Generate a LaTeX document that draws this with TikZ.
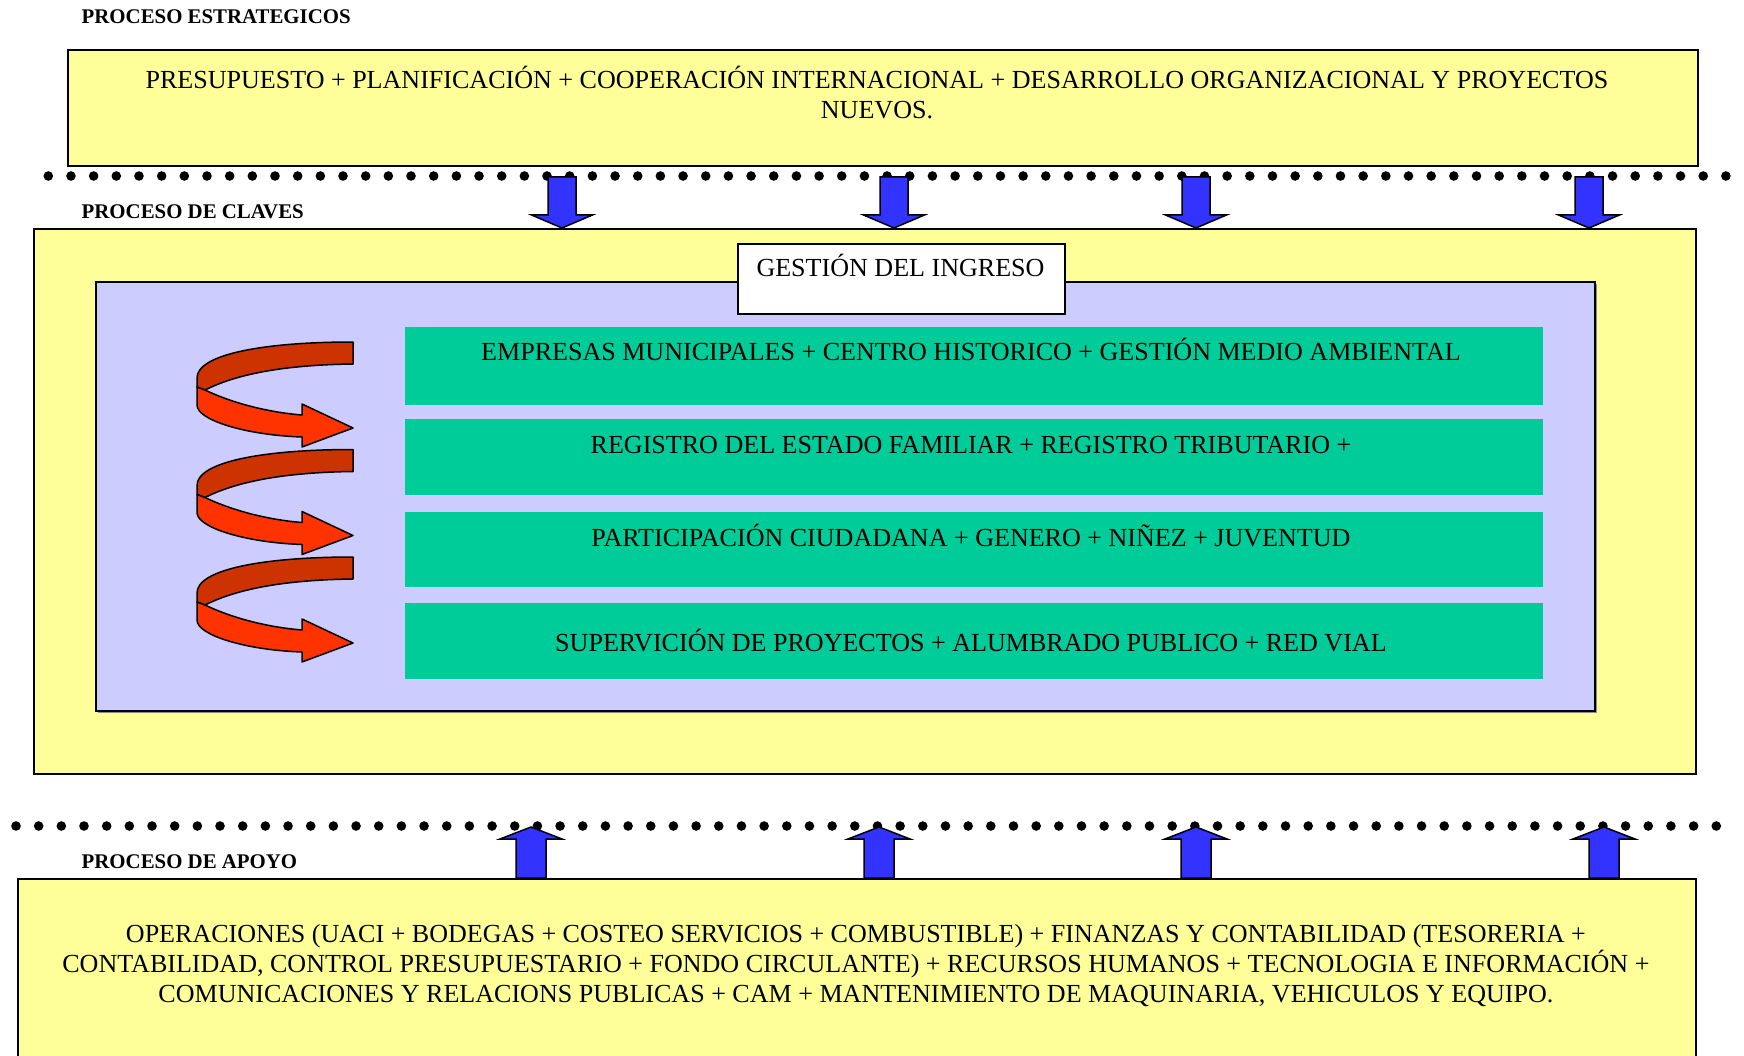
\documentclass[tikz,border=0pt]{standalone}
\usepackage{fontspec}
\setmainfont{Liberation Serif}
\definecolor{paleyellow}{HTML}{FFFF99}
\definecolor{lilac}{HTML}{CCCCFF}
\definecolor{seagreen}{HTML}{00CC99}
\definecolor{arrowblue}{HTML}{3333FF}
\definecolor{ribbondark}{HTML}{CC3300}
\definecolor{ribbonlight}{HTML}{FF3300}

\tikzset{
  bodytext/.style={font=\fontsize{26.05}{29.7}\selectfont, inner sep=0pt, align=center},
  headlabel/.style={font=\fontsize{20.85}{24}\selectfont\bfseries, inner sep=0pt, anchor=base west},
  panel/.style={draw=black, line width=2pt, inner sep=0pt, anchor=north west},
  greenbar/.style={fill=seagreen, inner sep=0pt, anchor=north west, minimum width=1138pt},
  blockarrow/.style={draw=black, fill=arrowblue, line width=1.5pt, line join=miter},
  ribbon/.style={draw=black, line width=1.5pt, line join=round},
  dot/.style={fill=black},
  pics/downblock/.style={code={
    \draw[blockarrow] (-14,0) -- (14,0) -- (14,38) -- (30.5,38) -- (0,51)
      -- (-30.5,38) -- (-14,38) -- cycle;}},
  pics/upblock/.style={code={
    \draw[blockarrow] (0,0) -- (31,12) -- (15,12) -- (15,51) -- (-15,51)
      -- (-15,12) -- (-31,12) -- cycle;}},
  pics/spiralarrow/.style={code={
    % back half of the ribbon
    \draw[ribbon, fill=ribbondark] (0,0) .. controls (-88,0) and (-156,12) .. (-156,36)
      -- (-156,45) -- (-148,48) .. controls (-118,33) and (-73,23) .. (0,22) -- cycle;
    % front half with the arrow head
    \draw[ribbon, fill=ribbonlight] (-156,45) -- (-148,48)
      .. controls (-123,60) and (-88,70) .. (-51,73) -- (-51,62) -- (0,86)
      -- (-51,105) -- (-51,95) .. controls (-108,93) and (-156,78) .. (-156,63) -- cycle;}}
}

\begin{document}
\begin{tikzpicture}[x=1pt,y=-1pt]
\useasboundingbox (0,0) rectangle (1744,1056);
\begin{scope}
\clip (0,0) rectangle (1744,1056);
\fill[white] (0,0) rectangle (1744,1056);

% section titles
\node[headlabel] (lblstrat) at (81.5,23.5) {PROCESO ESTRATEGICOS};
\node[headlabel] (lblclaves) at (81.5,218.5) {PROCESO DE CLAVES};
\node[headlabel] (lblapoyo) at (81.5,868) {PROCESO DE APOYO};

% strategic processes
\node[panel, fill=paleyellow, minimum width=1630pt, minimum height=116pt] (strat) at (67,49) {};
\node[bodytext, anchor=base] (strattext) at (877,118.5)
  {PRESUPUESTO + PLANIFICACIÓN + COOPERACIÓN INTERNACIONAL + DESARROLLO ORGANIZACIONAL Y PROYECTOS\\NUEVOS.};

% dotted separators
\foreach \i in {0,...,74} \fill[dot] (48.3+\i*22.67,176) circle[radius=4.8pt];
\foreach \i in {0,...,75} \fill[dot] (16+\i*22.67,826) circle[radius=4.8pt];

% key processes
\node[panel, fill=paleyellow, minimum width=1662pt, minimum height=545pt] (claves) at (33,228) {};
\fill[black!45] (98,284) rectangle (1597,713);
\node[panel, fill=lilac, minimum width=1499pt, minimum height=429pt] (ingreso) at (95,281) {};
\node[panel, fill=white, minimum width=327pt, minimum height=70pt] (gestion) at (737,243) {};
\node[bodytext, anchor=base] (gestiontext) at (900.5,277) {GESTIÓN DEL INGRESO};

\node[greenbar, minimum height=78pt] (g1) at (405,327) {};
\node[greenbar, minimum height=76pt] (g2) at (405,419) {};
\node[greenbar, minimum height=75pt] (g3) at (405,512) {};
\node[greenbar, minimum height=76pt] (g4) at (405,603) {};
\node[bodytext, anchor=base] (g1text) at (971,360) {EMPRESAS MUNICIPALES + CENTRO HISTORICO + GESTIÓN MEDIO AMBIENTAL};
\node[bodytext, anchor=base] (g2text) at (971,453) {REGISTRO DEL ESTADO FAMILIAR + REGISTRO TRIBUTARIO +};
\node[bodytext, anchor=base] (g3text) at (971,546.5) {PARTICIPACIÓN CIUDADANA + GENERO + NIÑEZ + JUVENTUD};
\node[bodytext, anchor=base] (g4text) at (971,651.5) {SUPERVICIÓN DE PROYECTOS + ALUMBRADO PUBLICO + RED VIAL};

% cycle ribbons
\foreach \k in {0,1,2} \pic at (353,342+\k*107.5) {spiralarrow};

% support processes
\node[panel, fill=paleyellow, minimum width=1678pt, minimum height=220pt] (apoyo) at (17,878) {};
\node[bodytext, anchor=base] (apoyotext) at (856,1002)
  {OPERACIONES (UACI + BODEGAS + COSTEO SERVICIOS + COMBUSTIBLE) + FINANZAS Y CONTABILIDAD (TESORERIA +\\
   CONTABILIDAD, CONTROL PRESUPUESTARIO + FONDO CIRCULANTE) + RECURSOS HUMANOS + TECNOLOGIA E INFORMACIÓN +\\
   COMUNICACIONES Y RELACIONS PUBLICAS + CAM + MANTENIMIENTO DE MAQUINARIA, VEHICULOS Y EQUIPO.};

% flows between layers
\foreach \xx in {562,894,1196,1589} \pic at (\xx,177) {downblock};
\foreach \xx in {531,879,1196,1604} \pic at (\xx,827) {upblock};
\end{scope}
\end{tikzpicture}
\end{document}
